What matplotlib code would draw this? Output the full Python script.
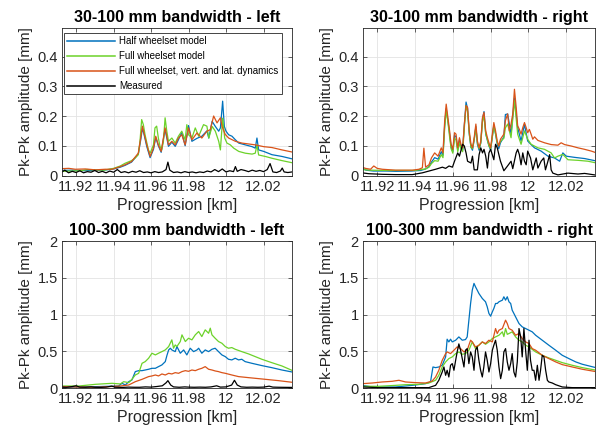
import matplotlib
matplotlib.use("Agg")
import matplotlib.pyplot as plt

plt.rcParams['font.family'] = ['Liberation Sans', 'DejaVu Sans']

# ---------------- data ----------------
titles = ["30-100 mm bandwidth - left", "30-100 mm bandwidth - right",
          "100-300 mm bandwidth - left", "100-300 mm bandwidth - right"]
series_names = ["Half wheelset model", "Full wheelset model",
                "Full wheelset, vert. and lat. dynamics", "Measured"]
xtick_vals = [11.92, 11.94, 11.96, 11.98, 12.00, 12.02]
xtick_labels = ["11.92", "11.94", "11.96", "11.98", "12", "12.02"]
ytick_top = [0, 0.1, 0.2, 0.3, 0.4]
ytick_top_labels = ["0", "0.1", "0.2", "0.3", "0.4"]
ytick_bot = [0, 0.5, 1, 1.5, 2]
ytick_bot_labels = ["0", "0.5", "1", "1.5", "2"]

# ---- 30-100 mm, left ----
tl_half_x = [11.9125, 11.918, 11.925, 11.93, 11.935, 11.94, 11.9436, 11.9461, 11.9496, 11.9532, 11.9545, 11.9554,
             11.9562, 11.9577, 11.9595, 11.9613, 11.9625, 11.9639, 11.9654, 11.9675, 11.9693, 11.9711, 11.9729,
             11.9746, 11.9764, 11.9782, 11.98, 11.9818, 11.9845, 11.9871, 11.9898, 11.9908, 11.9926, 11.9943,
             11.9961, 11.997, 11.9982, 11.9991, 12.0, 12.0014, 12.0032, 12.005, 12.0068, 12.0103, 12.0139,
             12.0156, 12.0165, 12.0174, 12.0201, 12.0245, 12.0299, 12.0352]
tl_half_y = [0.017, 0.018, 0.016, 0.017, 0.018, 0.022, 0.028, 0.034, 0.045, 0.072, 0.120, 0.160,
             0.140, 0.098, 0.060, 0.088, 0.128, 0.100, 0.078, 0.155, 0.098, 0.112, 0.098,
             0.120, 0.145, 0.100, 0.168, 0.115, 0.125, 0.132, 0.150, 0.126, 0.182, 0.165,
             0.149, 0.160, 0.250, 0.165, 0.149, 0.137, 0.132, 0.120, 0.109, 0.103, 0.097,
             0.092, 0.126, 0.086, 0.081, 0.070, 0.064, 0.056]
tl_full_x = [11.9125, 11.918, 11.922, 11.926, 11.93, 11.935, 11.94, 11.9436, 11.9461, 11.9496, 11.9514, 11.9532,
             11.9541, 11.955, 11.9559, 11.9568, 11.9586, 11.9595, 11.9613, 11.9621, 11.963, 11.9639, 11.9648,
             11.9657, 11.9666, 11.9675, 11.9684, 11.9693, 11.9711, 11.9729, 11.9746, 11.9764, 11.9782, 11.9791,
             11.98, 11.9818, 11.9836, 11.9854, 11.988, 11.9898, 11.9908, 11.9926, 11.9943, 11.9961, 11.997,
             11.9982, 11.9993, 12.0005, 12.0023, 12.0041, 12.0068, 12.0103, 12.0139, 12.0156, 12.0165, 12.0174,
             12.021, 12.0245, 12.0299, 12.0352]
tl_full_y = [0.014, 0.015, 0.016, 0.020, 0.019, 0.018, 0.024, 0.032, 0.041, 0.050, 0.058, 0.070,
             0.115, 0.188, 0.171, 0.137, 0.086, 0.075, 0.103, 0.160, 0.166, 0.126, 0.098,
             0.086, 0.115, 0.194, 0.149, 0.115, 0.126, 0.109, 0.132, 0.149, 0.120, 0.171,
             0.137, 0.126, 0.160, 0.132, 0.171, 0.166, 0.126, 0.165, 0.149, 0.115, 0.086,
             0.193, 0.126, 0.109, 0.103, 0.092, 0.081, 0.075, 0.072, 0.075, 0.103, 0.069,
             0.064, 0.058, 0.050, 0.043]
tl_vl_x = [11.9125, 11.9161, 11.9196, 11.925, 11.9303, 11.9356, 11.9392, 11.9436, 11.9461, 11.9496, 11.9532,
           11.9545, 11.9554, 11.9562, 11.9577, 11.9595, 11.9613, 11.9625, 11.9639, 11.9654, 11.9675, 11.9693,
           11.9711, 11.9729, 11.9746, 11.9764, 11.9782, 11.98, 11.9818, 11.9845, 11.9871, 11.9898, 11.9916,
           11.9934, 11.9952, 11.997, 11.9979, 11.9996, 12.0014, 12.005, 12.0085, 12.0121, 12.0156, 12.0201,
           12.0245, 12.0299, 12.0352]
tl_vl_y = [0.023, 0.024, 0.021, 0.022, 0.019, 0.021, 0.021, 0.030, 0.036, 0.047, 0.075,
           0.127, 0.166, 0.144, 0.104, 0.064, 0.092, 0.132, 0.103, 0.081, 0.160, 0.103,
           0.115, 0.103, 0.126, 0.137, 0.103, 0.160, 0.120, 0.143, 0.126, 0.149, 0.154,
           0.200, 0.177, 0.194, 0.165, 0.138, 0.126, 0.115, 0.109, 0.106, 0.103, 0.097,
           0.094, 0.086, 0.079]
tl_meas_x = [11.9125, 11.914, 11.916, 11.918, 11.92, 11.922, 11.924, 11.926, 11.928, 11.930, 11.932, 11.934,
             11.936, 11.938, 11.94, 11.942, 11.944, 11.946, 11.948, 11.95, 11.952, 11.954, 11.956, 11.958,
             11.96, 11.962, 11.964, 11.966, 11.968, 11.969, 11.970, 11.972, 11.974, 11.976, 11.978, 11.98,
             11.982, 11.984, 11.986, 11.988, 11.99, 11.992, 11.994, 11.996, 11.998, 12.0, 12.002, 12.004,
             12.005, 12.006, 12.008, 12.01, 12.012, 12.014, 12.016, 12.018, 12.02, 12.022, 12.0235, 12.025,
             12.027, 12.029, 12.03, 12.031, 12.033, 12.0352]
tl_meas_y = [0.012, 0.018, 0.009, 0.014, 0.010, 0.016, 0.009, 0.013, 0.011, 0.017, 0.010, 0.014,
             0.009, 0.015, 0.011, 0.020, 0.010, 0.013, 0.009, 0.014, 0.011, 0.016, 0.010, 0.012,
             0.009, 0.013, 0.010, 0.012, 0.020, 0.045, 0.018, 0.010, 0.012, 0.009, 0.013, 0.010,
             0.012, 0.009, 0.012, 0.010, 0.015, 0.012, 0.020, 0.013, 0.022, 0.012, 0.016, 0.013,
             0.030, 0.014, 0.020, 0.017, 0.013, 0.018, 0.014, 0.017, 0.013, 0.020, 0.040, 0.012,
             0.010, 0.015, 0.025, 0.012, 0.010, 0.012]

# ---- 30-100 mm, right ----
tr_half_x = [11.912, 11.914, 11.918, 11.925, 11.93, 11.938, 11.943, 11.9456, 11.9474, 11.9487, 11.9504, 11.9522,
             11.9539, 11.9548, 11.9557, 11.9565, 11.9574, 11.9583, 11.9591, 11.96, 11.9609, 11.9617, 11.9626,
             11.9635, 11.9643, 11.9652, 11.9661, 11.967, 11.9678, 11.9687, 11.9696, 11.9704, 11.9713, 11.9722,
             11.973, 11.9739, 11.9748, 11.9757, 11.9765, 11.9774, 11.9783, 11.9791, 11.98, 11.9809, 11.9817,
             11.9826, 11.9835, 11.9843, 11.9852, 11.987, 11.9878, 11.989, 11.9908, 11.9926, 11.9943, 11.9961,
             11.9979, 11.9996, 12.0014, 12.0032, 12.0067, 12.0103, 12.0138, 12.0165, 12.0182, 12.02, 12.0244,
             12.0297, 12.035]
tr_half_y = [0.026, 0.018, 0.015, 0.015, 0.014, 0.015, 0.017, 0.022, 0.030, 0.045, 0.060, 0.055,
             0.080, 0.068, 0.170, 0.225, 0.185, 0.140, 0.095, 0.080, 0.135, 0.130, 0.085,
             0.120, 0.095, 0.085, 0.170, 0.247, 0.225, 0.140, 0.095, 0.085, 0.120, 0.165,
             0.105, 0.085, 0.110, 0.190, 0.215, 0.140, 0.118, 0.100, 0.085, 0.130, 0.170,
             0.140, 0.105, 0.090, 0.110, 0.130, 0.205, 0.207, 0.139, 0.261, 0.161, 0.116,
             0.172, 0.116, 0.104, 0.093, 0.082, 0.065, 0.059, 0.048, 0.076, 0.065, 0.061,
             0.057, 0.050]
tr_full_x = [11.912, 11.916, 11.925, 11.93, 11.94, 11.9456, 11.9474, 11.9487, 11.9504, 11.9522, 11.9539, 11.9548,
             11.9557, 11.9565, 11.9574, 11.9583, 11.9591, 11.96, 11.9609, 11.9617, 11.9626, 11.9635, 11.9643,
             11.9652, 11.9661, 11.967, 11.9678, 11.9687, 11.9696, 11.9704, 11.9713, 11.9722, 11.973, 11.9739,
             11.9748, 11.9757, 11.9765, 11.9774, 11.9783, 11.9791, 11.98, 11.9809, 11.9817, 11.9826, 11.9835,
             11.9843, 11.9852, 11.987, 11.9878, 11.989, 11.9908, 11.9926, 11.9943, 11.9961, 11.9979, 11.9996,
             12.0014, 12.0032, 12.005, 12.0085, 12.012, 12.0138, 12.0156, 12.0182, 12.0209, 12.0262, 12.0315,
             12.036]
tr_full_y = [0.020, 0.018, 0.017, 0.017, 0.017, 0.022, 0.028, 0.040, 0.050, 0.048, 0.070, 0.060,
             0.160, 0.220, 0.180, 0.130, 0.090, 0.075, 0.125, 0.120, 0.080, 0.110, 0.090,
             0.080, 0.160, 0.235, 0.215, 0.140, 0.095, 0.090, 0.120, 0.160, 0.110, 0.090,
             0.110, 0.180, 0.200, 0.140, 0.120, 0.100, 0.090, 0.130, 0.165, 0.140, 0.110,
             0.100, 0.115, 0.125, 0.160, 0.173, 0.127, 0.252, 0.139, 0.105, 0.150, 0.122,
             0.105, 0.099, 0.093, 0.088, 0.076, 0.059, 0.065, 0.071, 0.053, 0.051, 0.048,
             0.042]
tr_vl_x = [11.912, 11.9138, 11.9165, 11.9182, 11.92, 11.9227, 11.9297, 11.9386, 11.9421, 11.9439, 11.9447, 11.9456,
           11.9474, 11.9487, 11.9504, 11.9522, 11.9539, 11.9548, 11.9557, 11.9565, 11.9574, 11.9583, 11.9591,
           11.96, 11.9609, 11.9617, 11.9626, 11.9635, 11.9643, 11.9652, 11.9661, 11.967, 11.9678, 11.9687,
           11.9696, 11.9704, 11.9713, 11.9722, 11.973, 11.9739, 11.9748, 11.9757, 11.9765, 11.9774, 11.9783,
           11.9791, 11.98, 11.9809, 11.9817, 11.9826, 11.9835, 11.9843, 11.9852, 11.987, 11.9878, 11.989,
           11.9899, 11.9908, 11.9917, 11.9926, 11.9935, 11.9943, 11.9952, 11.9961, 11.997, 11.9979, 11.9988,
           11.9996, 12.0005, 12.0014, 12.0023, 12.0032, 12.005, 12.0085, 12.012, 12.0156, 12.0173, 12.0191,
           12.0227, 12.0262, 12.0297, 12.0333, 12.036]
tr_vl_y = [0.028, 0.024, 0.021, 0.032, 0.024, 0.021, 0.018, 0.018, 0.021, 0.026, 0.092, 0.028,
           0.036, 0.059, 0.076, 0.065, 0.093, 0.076, 0.184, 0.240, 0.195, 0.150, 0.105,
           0.088, 0.144, 0.139, 0.093, 0.127, 0.105, 0.093, 0.173, 0.235, 0.229, 0.150,
           0.105, 0.093, 0.127, 0.173, 0.116, 0.093, 0.116, 0.195, 0.212, 0.150, 0.127,
           0.110, 0.093, 0.139, 0.178, 0.150, 0.116, 0.099, 0.122, 0.139, 0.184, 0.207,
           0.150, 0.173, 0.207, 0.290, 0.230, 0.167, 0.155, 0.139, 0.161, 0.178, 0.161,
           0.144, 0.155, 0.139, 0.122, 0.130, 0.118, 0.110, 0.104, 0.102, 0.110, 0.104,
           0.099, 0.093, 0.088, 0.082, 0.076]
tr_meas_x = [11.912, 11.9156, 11.9227, 11.9297, 11.9386, 11.9439, 11.9474, 11.9509, 11.9545, 11.9562, 11.958,
             11.9598, 11.9609, 11.9626, 11.9635, 11.9652, 11.9661, 11.967, 11.9678, 11.9696, 11.9704, 11.9713,
             11.973, 11.9739, 11.9748, 11.9757, 11.9765, 11.9774, 11.9783, 11.9791, 11.98, 11.9817, 11.9826,
             11.9835, 11.9852, 11.987, 11.9887, 11.9908, 11.9917, 11.9935, 11.9943, 11.9952, 11.9961, 11.997,
             11.9979, 11.9988, 11.9996, 12.0011, 12.0023, 12.0041, 12.005, 12.0067, 12.0081, 12.009, 12.0103,
             12.0112, 12.012, 12.0129, 12.0156, 12.0209, 12.0262, 12.0297, 12.035]
tr_meas_y = [0.009, 0.006, 0.004, 0.003, 0.003, 0.009, 0.015, 0.021, 0.028, 0.024, 0.032,
             0.028, 0.048, 0.076, 0.065, 0.105, 0.099, 0.076, 0.048, 0.042, 0.065, 0.019,
             0.019, 0.070, 0.093, 0.076, 0.088, 0.065, 0.025, 0.076, 0.088, 0.053, 0.105,
             0.093, 0.048, 0.016, 0.030, 0.048, 0.023, 0.076, 0.088, 0.070, 0.036, 0.076,
             0.048, 0.036, 0.082, 0.059, 0.019, 0.059, 0.025, 0.048, 0.059, 0.019, 0.048,
             0.070, 0.019, 0.008, 0.002, 0.008, 0.005, 0.007, 0.002]

# ---- 100-300 mm, left ----
bl_half_x = [11.9125, 11.9303, 11.9427, 11.9445, 11.9463, 11.9481, 11.9498, 11.9516, 11.9534, 11.9552, 11.9569,
             11.9587, 11.9605, 11.9623, 11.964, 11.9658, 11.9676, 11.9685, 11.9694, 11.9703, 11.9711, 11.9729,
             11.9738, 11.9756, 11.9774, 11.9791, 11.9809, 11.9827, 11.9845, 11.9854, 11.9871, 11.9889, 11.9907,
             11.9925, 11.9942, 11.996, 11.9978, 11.9996, 12.0013, 12.0031, 12.0049, 12.0067, 12.0084, 12.0102,
             12.0138, 12.0191, 12.0244, 12.0298, 12.0352]
bl_half_y = [0.009, 0.018, 0.027, 0.064, 0.041, 0.086, 0.109, 0.223, 0.236, 0.236, 0.245,
             0.255, 0.268, 0.268, 0.291, 0.314, 0.359, 0.445, 0.518, 0.541, 0.518, 0.495,
             0.564, 0.473, 0.518, 0.450, 0.541, 0.495, 0.518, 0.541, 0.473, 0.518, 0.495,
             0.527, 0.541, 0.495, 0.450, 0.427, 0.391, 0.382, 0.405, 0.382, 0.391, 0.359,
             0.336, 0.305, 0.277, 0.245, 0.218]
bl_full_x = [11.9125, 11.9214, 11.9303, 11.9392, 11.9436, 11.9454, 11.9481, 11.9498, 11.9516, 11.9534, 11.9552,
             11.9569, 11.9587, 11.9605, 11.9623, 11.964, 11.9658, 11.9676, 11.9694, 11.9711, 11.972, 11.9729,
             11.9738, 11.9756, 11.9765, 11.9783, 11.98, 11.9818, 11.9836, 11.9854, 11.9871, 11.9889, 11.9907,
             11.9916, 11.9925, 11.9942, 11.996, 11.9978, 11.9996, 12.0013, 12.0031, 12.0049, 12.0084, 12.012,
             12.0156, 12.0191, 12.0244, 12.0298, 12.0352]
bl_full_y = [0.027, 0.027, 0.050, 0.064, 0.055, 0.086, 0.073, 0.118, 0.177, 0.200, 0.336,
             0.359, 0.405, 0.473, 0.450, 0.473, 0.495, 0.518, 0.564, 0.655, 0.541, 0.586,
             0.564, 0.632, 0.723, 0.632, 0.677, 0.655, 0.723, 0.768, 0.700, 0.791, 0.745,
             0.814, 0.723, 0.677, 0.632, 0.609, 0.564, 0.541, 0.550, 0.527, 0.495, 0.464,
             0.427, 0.391, 0.345, 0.300, 0.240]
bl_vl_x = [11.9125, 11.9303, 11.9436, 11.9481, 11.9516, 11.9552, 11.9587, 11.9605, 11.9623, 11.964, 11.9658,
           11.9676, 11.9694, 11.9711, 11.9729, 11.9747, 11.9765, 11.9783, 11.98, 11.9818, 11.9836, 11.9854,
           11.9871, 11.9889, 11.9907, 11.9925, 11.9942, 11.996, 11.9978, 11.9996, 12.0031, 12.0067, 12.012,
           12.0191, 12.028, 12.0352]
bl_vl_y = [0.018, 0.009, 0.027, 0.041, 0.086, 0.118, 0.155, 0.164, 0.177, 0.164, 0.191,
           0.177, 0.200, 0.191, 0.209, 0.200, 0.223, 0.236, 0.227, 0.245, 0.236, 0.255,
           0.268, 0.291, 0.255, 0.245, 0.232, 0.223, 0.209, 0.200, 0.177, 0.155, 0.141,
           0.123, 0.100, 0.078]
bl_meas_x = [11.9125, 11.915, 11.918, 11.92, 11.922, 11.925, 11.928, 11.93, 11.933, 11.936, 11.939, 11.941,
             11.945, 11.948, 11.951, 11.954, 11.957, 11.96, 11.963, 11.966, 11.968, 11.969, 11.9705, 11.972,
             11.975, 11.978, 11.98, 11.983, 11.986, 11.989, 11.992, 11.995, 11.997, 12.0, 12.003, 12.0045,
             12.006, 12.008, 12.011, 12.014, 12.017, 12.02, 12.023, 12.025, 12.028, 12.031, 12.0352]
bl_meas_y = [0.012, 0.010, 0.020, 0.030, 0.012, 0.010, 0.015, 0.010, 0.008, 0.012, 0.025, 0.010,
             0.008, 0.012, 0.010, 0.010, 0.015, 0.012, 0.020, 0.030, 0.070, 0.100, 0.040, 0.015,
             0.010, 0.015, 0.012, 0.010, 0.012, 0.010, 0.015, 0.030, 0.012, 0.015, 0.040, 0.105,
             0.040, 0.015, 0.010, 0.012, 0.010, 0.012, 0.025, 0.012, 0.010, 0.009, 0.008]

# ---- 100-300 mm, right ----
br_half_x = [11.9121, 11.9174, 11.9297, 11.9385, 11.9456, 11.9482, 11.9495, 11.9509, 11.9526, 11.9544, 11.9562,
             11.957, 11.9579, 11.9588, 11.9597, 11.9615, 11.9632, 11.965, 11.9667, 11.9676, 11.9685, 11.9694,
             11.9703, 11.9712, 11.972, 11.9729, 11.9738, 11.9756, 11.9773, 11.9782, 11.9791, 11.98, 11.9809,
             11.9817, 11.9826, 11.9835, 11.9844, 11.9862, 11.987, 11.9879, 11.9888, 11.9897, 11.9906, 11.9914,
             11.9923, 11.9932, 11.995, 11.9967, 11.9985, 12.0003, 12.002, 12.0038, 12.0073, 12.0108, 12.0144,
             12.0179, 12.0214, 12.025, 12.0285, 12.0352]
br_half_y = [0.036, 0.014, 0.014, 0.036, 0.059, 0.082, 0.286, 0.277, 0.286, 0.309, 0.423,
             0.664, 0.627, 0.664, 0.627, 0.650, 0.695, 0.650, 0.659, 0.695, 0.923, 1.150,
             1.332, 1.423, 1.377, 1.332, 1.286, 1.218, 1.173, 1.105, 1.014, 0.977, 1.036,
             1.082, 1.150, 1.150, 1.173, 1.195, 1.241, 1.195, 1.241, 1.173, 1.150, 1.059,
             1.014, 0.968, 0.877, 0.832, 0.809, 0.786, 0.764, 0.718, 0.650, 0.582, 0.514,
             0.445, 0.400, 0.355, 0.323, 0.280]
br_full_x = [11.9121, 11.9209, 11.9297, 11.935, 11.942, 11.9473, 11.9509, 11.9526, 11.9544, 11.9562, 11.9579,
             11.9597, 11.9615, 11.9632, 11.965, 11.9667, 11.9685, 11.9703, 11.972, 11.9738, 11.9756, 11.9773,
             11.9791, 11.9809, 11.9826, 11.9844, 11.9862, 11.987, 11.9879, 11.9888, 11.9897, 11.9914, 11.9932,
             11.995, 11.9967, 11.9985, 12.0003, 12.0038, 12.0073, 12.0108, 12.0144, 12.0179, 12.0232, 12.0285,
             12.0352]
br_full_y = [0.023, 0.023, 0.036, 0.045, 0.050, 0.068, 0.105, 0.173, 0.286, 0.355, 0.400,
             0.423, 0.468, 0.491, 0.459, 0.468, 0.514, 0.627, 0.536, 0.582, 0.627, 0.595,
             0.627, 0.673, 0.695, 0.718, 0.764, 0.700, 0.809, 0.730, 0.741, 0.764, 0.695,
             0.650, 0.627, 0.582, 0.559, 0.491, 0.445, 0.409, 0.377, 0.345, 0.309, 0.277,
             0.245]
br_vl_x = [11.9121, 11.9174, 11.9226, 11.9279, 11.9315, 11.935, 11.9403, 11.9456, 11.9491, 11.9509, 11.9526,
           11.9544, 11.9562, 11.957, 11.9588, 11.9606, 11.9623, 11.9641, 11.9659, 11.9676, 11.9694, 11.9703,
           11.972, 11.9738, 11.9756, 11.9773, 11.9791, 11.9809, 11.9826, 11.9835, 11.9844, 11.9862, 11.9879,
           11.9888, 11.9897, 11.9914, 11.9932, 11.995, 11.9967, 11.9985, 12.0003, 12.002, 12.0038, 12.0073,
           12.0108, 12.0144, 12.0179, 12.0232, 12.0285, 12.0352]
br_vl_y = [0.059, 0.068, 0.082, 0.091, 0.105, 0.082, 0.073, 0.068, 0.095, 0.150, 0.241,
           0.377, 0.468, 0.491, 0.468, 0.514, 0.559, 0.536, 0.491, 0.514, 0.650, 0.627,
           0.559, 0.582, 0.627, 0.605, 0.650, 0.627, 0.809, 0.741, 0.786, 0.809, 0.923,
           0.877, 0.809, 0.786, 0.718, 0.741, 0.673, 0.627, 0.605, 0.536, 0.514, 0.445,
           0.400, 0.355, 0.318, 0.286, 0.255, 0.225]
br_meas_x = [11.9121, 11.9209, 11.9473, 11.9509, 11.9526, 11.9544, 11.9553, 11.9562, 11.957, 11.9579, 11.9588,
             11.9597, 11.9606, 11.9615, 11.9623, 11.9632, 11.9641, 11.965, 11.9659, 11.9667, 11.9676, 11.9685,
             11.9694, 11.9703, 11.9712, 11.972, 11.9729, 11.9738, 11.9747, 11.9756, 11.9764, 11.9773, 11.9782,
             11.9791, 11.98, 11.9809, 11.9817, 11.9826, 11.9835, 11.9844, 11.9853, 11.9862, 11.987, 11.9879,
             11.9888, 11.9897, 11.9906, 11.9914, 11.9923, 11.9932, 11.9941, 11.995, 11.9959, 11.9967, 11.9976,
             11.9985, 11.9994, 12.0003, 12.0011, 12.002, 12.0029, 12.0038, 12.0047, 12.0056, 12.0064, 12.0073,
             12.0082, 12.0091, 12.01, 12.0108, 12.0126, 12.0144, 12.0179, 12.0232, 12.0352]
br_meas_y = [0.014, 0.005, 0.005, 0.036, 0.105, 0.218, 0.286, 0.173, 0.241, 0.150, 0.309,
             0.332, 0.241, 0.377, 0.491, 0.600, 0.514, 0.400, 0.286, 0.514, 0.536, 0.332,
             0.491, 0.423, 0.241, 0.514, 0.559, 0.377, 0.241, 0.150, 0.286, 0.491, 0.377,
             0.218, 0.332, 0.514, 0.582, 0.650, 0.514, 0.286, 0.127, 0.241, 0.491, 0.536,
             0.355, 0.241, 0.332, 0.468, 0.218, 0.150, 0.355, 0.809, 0.695, 0.423, 0.809,
             0.514, 0.241, 0.650, 0.377, 0.241, 0.241, 0.105, 0.309, 0.105, 0.241, 0.445,
             0.423, 0.241, 0.105, 0.082, 0.068, 0.045, 0.014, 0.005, 0.005]

panels = [
    [(tl_half_x, tl_half_y), (tl_full_x, tl_full_y), (tl_vl_x, tl_vl_y), (tl_meas_x, tl_meas_y)],
    [(tr_half_x, tr_half_y), (tr_full_x, tr_full_y), (tr_vl_x, tr_vl_y), (tr_meas_x, tr_meas_y)],
    [(bl_half_x, bl_half_y), (bl_full_x, bl_full_y), (bl_vl_x, bl_vl_y), (bl_meas_x, bl_meas_y)],
    [(br_half_x, br_half_y), (br_full_x, br_full_y), (br_vl_x, br_vl_y), (br_meas_x, br_meas_y)],
]

# ---------------- style ----------------
colors = ['#0072BD', '#6CD22A', '#D95319', '#000000']
axcol = '#262626'
W, H = 603, 434
boxes = [(62, 28, 292, 175.5), (363, 28, 595, 175.5),
         (62, 241, 292, 388), (363, 241, 595, 388)]

fig = plt.figure(figsize=(W / 100, H / 100), dpi=100)
fig.patch.set_facecolor('white')

for i, (box, data) in enumerate(zip(boxes, panels)):
    x0, y0, x1, y1 = box
    ax = fig.add_axes([x0 / W, 1 - y1 / H, (x1 - x0) / W, (y1 - y0) / H])
    for (xs, ys), c, name in zip(data, colors, series_names):
        ax.plot(xs, ys, color=c, lw=0.9, label=name)
    ax.set_xlim(11.9125, 12.0352)
    ax.set_xticks(xtick_vals)
    ax.set_xticklabels(xtick_labels)
    if i < 2:
        ax.set_ylim(0, 0.496)
        ax.set_yticks(ytick_top)
        ax.set_yticklabels(ytick_top_labels)
    else:
        ax.set_ylim(0, 2)
        ax.set_yticks(ytick_bot)
        ax.set_yticklabels(ytick_bot_labels)
    ax.grid(True, color='#e3e3e3', lw=0.6)
    ax.set_axisbelow(True)
    ax.tick_params(direction='in', top=True, right=True, length=3, width=0.5,
                   labelsize=10.5, colors=axcol, pad=3)
    for s in ax.spines.values():
        s.set_color(axcol)
        s.set_linewidth(0.6)
    ax.set_title(titles[i], fontsize=11.5, fontweight='bold', color='#000000', pad=4)
    ax.set_xlabel("Progression [km]", fontsize=11.5, color=axcol, labelpad=3)
    ax.set_ylabel("Pk-Pk amplitude [mm]", fontsize=11, color=axcol, labelpad=3)
    if i == 0:
        leg = ax.legend(loc='upper left', bbox_to_anchor=(0.009, 0.966), borderaxespad=0,
                        fontsize=7, handlelength=4.9, handletextpad=0.4, labelspacing=0.5,
                        fancybox=False, framealpha=1, edgecolor=axcol, borderpad=0.35)
        leg.get_frame().set_linewidth(0.6)
        for lh in leg.get_lines():
            lh.set_linewidth(1.1)

fig.savefig("out.png", dpi=100)
